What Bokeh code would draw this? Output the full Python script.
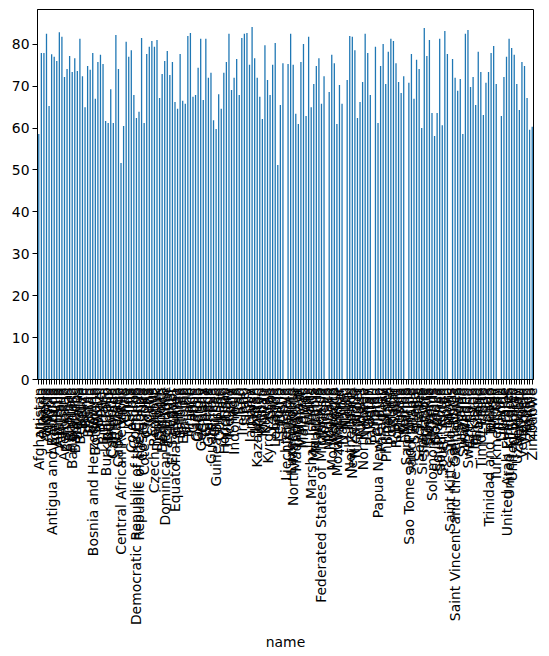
import math
from bokeh.plotting import figure
from bokeh.models import FactorRange, Range1d, ColumnDataSource, FixedTicker
from bokeh.embed import file_html
from bokeh.resources import INLINE

names = [
    "Afghanistan", "Albania", "Algeria", "Andorra", "Angola", "Antigua and Barbuda",
    "Argentina", "Armenia", "Australia", "Austria", "Azerbaijan", "Bahamas", "Bahrain",
    "Bangladesh", "Barbados", "Belarus", "Belgium", "Belize", "Benin", "Bhutan", "Bolivia",
    "Bosnia and Herzegovina", "Botswana", "Brazil", "Brunei", "Bulgaria", "Burkina Faso",
    "Burundi", "Cambodia", "Cameroon", "Canada", "Cape Verde", "Central African Republic",
    "Chad", "Chile", "China", "Colombia", "Comoros", "Democratic Republic of the Congo",
    "Republic of the Congo", "Costa Rica", "Cote d'Ivoire", "Croatia", "Cuba", "Cyprus",
    "Czech Republic", "Denmark", "Djibouti", "Dominica", "Dominican Republic", "Ecuador",
    "Egypt", "El Salvador", "Equatorial Guinea", "Eritrea", "Estonia", "Ethiopia", "Fiji",
    "Finland", "France", "Gabon", "Gambia", "Georgia", "Germany", "Ghana", "Greece",
    "Grenada", "Guatemala", "Guinea", "Guinea-Bissau", "Guyana", "Haiti", "Honduras",
    "Hungary", "Iceland", "India", "Indonesia", "Iran", "Iraq", "Ireland", "Israel", "Italy",
    "Jamaica", "Japan", "Jordan", "Kazakhstan", "Kenya", "Kiribati", "Kuwait", "Kyrgyzstan",
    "Laos", "Latvia", "Lebanon", "Lesotho", "Liberia", "Libya", "Liechtenstein", "Lithuania",
    "Luxembourg", "North Macedonia", "Madagascar", "Malawi", "Malaysia", "Maldives", "Mali",
    "Malta", "Marshall Islands", "Mauritania", "Mauritius", "Mexico",
    "Federated States of Micronesia", "Moldova", "Monaco", "Mongolia", "Montenegro",
    "Morocco", "Mozambique", "Myanmar", "Namibia", "Nauru", "Nepal", "Netherlands",
    "New Zealand", "Nicaragua", "Niger", "Nigeria", "North Korea", "Norway", "Oman",
    "Pakistan", "Palau", "Panama", "Papua New Guinea", "Paraguay", "Peru", "Philippines",
    "Poland", "Portugal", "Qatar", "Romania", "Russia", "Rwanda", "Samoa", "San Marino",
    "Sao Tome and Principe", "Saudi Arabia", "Senegal", "Serbia", "Seychelles",
    "Sierra Leone", "Singapore", "Slovakia", "Slovenia", "Solomon Islands", "Somalia",
    "South Africa", "South Korea", "South Sudan", "Spain", "Sri Lanka",
    "Saint Kitts and Nevis", "Saint Lucia", "Saint Vincent and the Grenadines", "Sudan",
    "Suriname", "Swaziland", "Sweden", "Switzerland", "Syria", "Tajikistan", "Tanzania",
    "Thailand", "Timor-Leste", "Togo", "Tonga", "Trinidad and Tobago", "Tunisia", "Turkey",
    "Turkmenistan", "Tuvalu", "Uganda", "Ukraine", "United Arab Emirates", "United Kingdom",
    "United States", "Uruguay", "Uzbekistan", "Vanuatu", "Venezuela", "Vietnam", "Yemen",
    "Zambia", "Zimbabwe",
]

life_expectancy = [
    58.6, 77.9, 77.9, 82.5, 65.3, 77.6, 77.0, 76.0, 82.9, 81.8, 72.2, 74.1, 77.2,
    73.4, 76.7, 73.6, 81.3, 72.4, 65.0, 74.8, 73.9, 77.9, 67.0, 75.8, 77.5, 75.3, 61.7,
    61.2, 69.3, 61.2, 82.2, 74.1, 51.7, 60.5, 80.6, 77.0, 78.6, 67.9, 62.4,
    63.9, 81.5, 61.2, 77.7, 79.4, 80.8, 79.4, 81.0, 67.2, 72.9, 76.0, 78.4,
    72.7, 75.8, 66.2, 64.6, 77.7, 66.5, 65.8, 82.0, 82.7, 67.5, 67.9, 74.4, 81.3, 66.7, 81.3,
    72.0, 73.2, 61.9, 59.8, 68.1, 64.6, 73.2, 75.8, 82.5, 69.1, 72.0, 76.5, 67.9, 81.5, 82.5, 82.7,
    75.1, 84.1, 76.7, 72.0, 67.5, 62.2, 79.8, 71.5, 67.9, 75.1, 80.3, 51.2, 65.5, 75.5, None, 75.3,
    82.5, 75.1, 63.4, 61.0, 75.8, 80.1, 62.9, 81.8, 65.0, 70.5, 74.8, 76.7,
    65.8, 72.4, None, 68.6, 77.5, 75.5, 61.0, 70.3, 65.8, None, 71.5, 82.0,
    81.8, 78.6, 62.4, 66.2, 71.0, 82.5, 77.9, 67.9, None, 79.4, 61.2, 74.8, 80.1, 70.5,
    78.2, 81.3, 80.8, 75.5, 71.0, 68.4, 72.4, None, 70.8, 77.7, 67.0, 76.3, 74.1,
    60.0, 83.9, 77.2, 81.0, 63.6, 58.1, 63.6, 81.3, 60.7, 83.2, 77.7,
    None, 76.5, 72.0, 68.9, 71.7, 58.6, 82.5, 83.4, 69.8, 72.2, 65.5,
    78.2, 73.4, 63.1, 70.8, 73.4, 77.9, 79.6, 70.5, None, 62.9, 72.2, 77.0, 81.3,
    79.1, 77.5, 70.5, 64.3, 75.8, 74.8, 67.2, 59.6, 60.3,
]

y_ticks = [0, 10, 20, 30, 40, 50, 60, 70, 80]
x_axis_label = "name"

present = [(n, v) for n, v in zip(names, life_expectancy) if v is not None]
source = ColumnDataSource(dict(name=[n for n, _ in present], value=[v for _, v in present]))

ymax = max(v for _, v in present) * 1.05

p = figure(
    width=541, height=656,
    x_range=FactorRange(factors=names),
    y_range=Range1d(0, ymax),
    output_backend="svg", toolbar_location=None,
    min_border_left=37, min_border_right=8, min_border_top=9, min_border_bottom=277,
)

p.vbar(x="name", top="value", width=0.5, source=source, color="#1f77b4", line_width=0)

font = "DejaVu Sans"
p.xgrid.visible = False
p.ygrid.visible = False
p.outline_line_color = "black"
p.outline_line_width = 1
p.outline_line_alpha = 1

for ax in (p.xaxis[0], p.yaxis[0]):
    ax.axis_line_color = "black"
    ax.axis_line_width = 1
    ax.major_tick_in = 0
    ax.major_tick_out = 5
    ax.major_tick_line_color = "black"
    ax.minor_tick_line_color = None
    ax.major_label_text_font = font
    ax.major_label_text_font_size = "13.9px"
    ax.major_label_text_color = "black"
    ax.major_label_standoff = 3

p.yaxis.ticker = FixedTicker(ticks=y_ticks)
p.xaxis.major_label_orientation = math.pi / 2
p.xaxis.axis_label = x_axis_label
p.xaxis.axis_label_text_font = font
p.xaxis.axis_label_text_font_size = "13.9px"
p.xaxis.axis_label_text_font_style = "normal"
p.xaxis.axis_label_text_color = "black"
p.xaxis.axis_label_standoff = 6

open("out.html", "w").write(file_html(p, INLINE))
